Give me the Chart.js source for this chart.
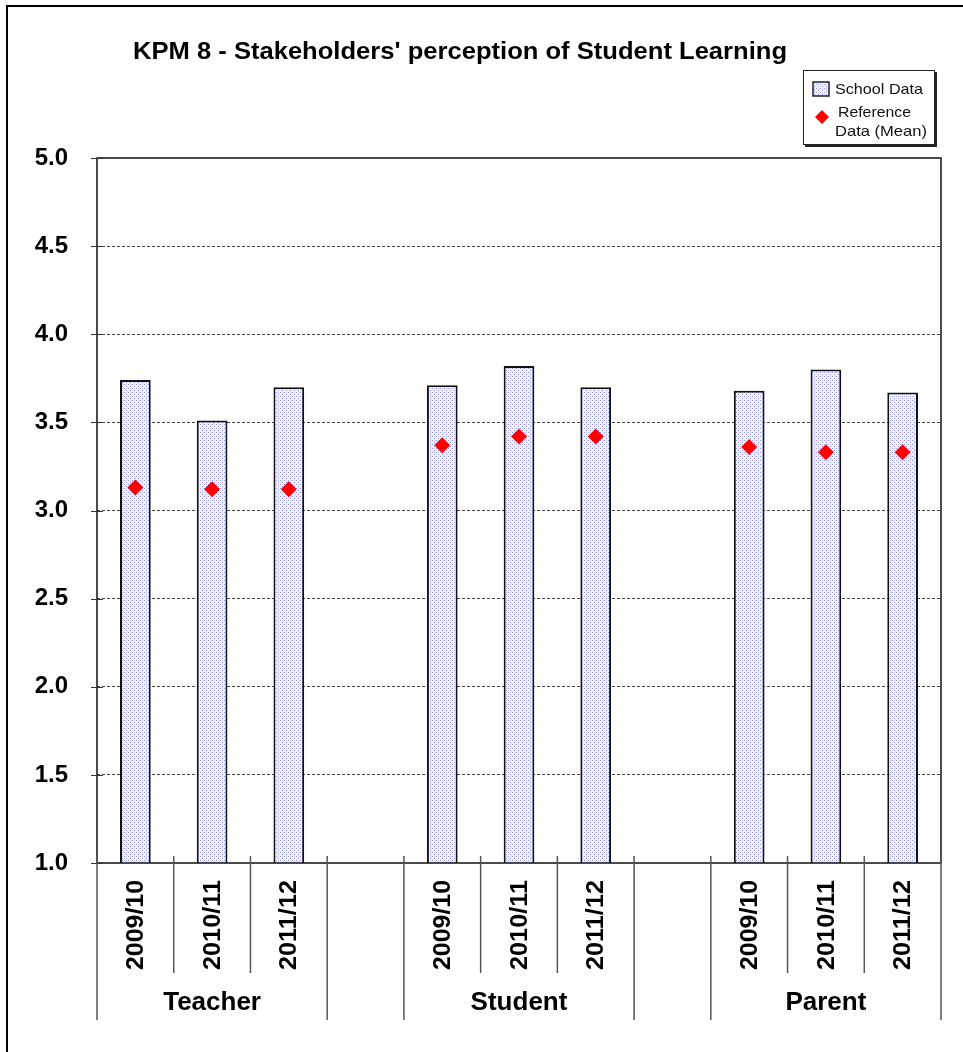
<!DOCTYPE html>
<html>
<head>
<meta charset="utf-8">
<script src="https://cdn.jsdelivr.net/npm/chart.js@4/dist/chart.umd.min.js"></script>
<style>
  body { margin: 0; background: #fff; }
  #wrap { width: 963px; height: 1052px; position: relative; }
</style>
</head>
<body>
<div id="wrap"><canvas id="kpmChart" width="963" height="1052"></canvas></div>
<script>
var title = "KPM 8 - Stakeholders' perception of Student Learning";
var groups = ['Teacher', 'Student', 'Parent'];
var years = ['2009/10', '2010/11', '2011/12'];
var schoolData = [
  [3.74, 3.51, 3.70],
  [3.71, 3.82, 3.70],
  [3.68, 3.80, 3.67]
];
var referenceMean = [
  [3.13, 3.12, 3.12],
  [3.37, 3.42, 3.42],
  [3.36, 3.33, 3.33]
];
var yTicks = [1.0, 1.5, 2.0, 2.5, 3.0, 3.5, 4.0, 4.5, 5.0];

var FONT = '"Liberation Sans", Arial, sans-serif';

// one slot per year, with an empty slot between groups
var labels = [];
var barData = [];
var meanData = [];
var groupOf = [];
for (var g = 0; g < groups.length; g++) {
  if (g > 0) {
    labels.push('');
    barData.push(null);
    meanData.push(null);
    groupOf.push(-1);
  }
  for (var i = 0; i < years.length; i++) {
    labels.push(years[i]);
    barData.push([1, schoolData[g][i]]);
    meanData.push(referenceMean[g][i]);
    groupOf.push(g);
  }
}

// dotted lavender fill for the bars
var pc = document.createElement('canvas');
pc.width = 4; pc.height = 4;
var p = pc.getContext('2d');
p.fillStyle = '#f1f1fd';
p.fillRect(0, 0, 4, 4);
p.fillStyle = '#9d9def';
p.fillRect(0, 0, 1, 1);
p.fillRect(2, 2, 1, 1);
p.fillStyle = '#cfcff7';
p.fillRect(2, 0, 1, 1);
var dotFill = p.createPattern(pc, 'repeat');

// text squeezed/stretched to a given width
function fitText(c, text, x, y, width) {
  var w = c.measureText(text).width;
  c.save();
  c.translate(x, y);
  c.scale(width / w, 1);
  c.fillText(text, 0, 0);
  c.restore();
}

var decorations = {
  id: 'decorations',
  beforeDraw: function (chart) {
    var c = chart.ctx;
    c.save();
    c.fillStyle = '#fff';
    c.fillRect(0, 0, chart.width, chart.height);
    c.restore();
  },
  afterDraw: function (chart) {
    var c = chart.ctx;
    var a = chart.chartArea;
    var xs = chart.scales.x;
    var ys = chart.scales.y;
    c.save();

    // outer frame
    c.strokeStyle = '#000';
    c.lineWidth = 2;
    c.beginPath();
    c.moveTo(7, chart.height);
    c.lineTo(7, 6);
    c.lineTo(chart.width, 6);
    c.stroke();

    // title
    c.fillStyle = '#000';
    c.font = 'bold 23px ' + FONT;
    c.textAlign = 'center';
    c.textBaseline = 'middle';
    fitText(c, title, 460, 53, 654);

    // plot frame
    c.strokeStyle = '#111';
    c.lineWidth = 1.5;
    c.strokeRect(a.left, a.top, a.right - a.left, a.bottom - a.top);

    // short ticks on the value axis
    c.lineWidth = 1;
    c.strokeStyle = '#333';
    yTicks.forEach(function (v) {
      var y = Math.round(ys.getPixelForValue(v)) + 0.5;
      c.beginPath();
      c.moveTo(a.left - 6, y);
      c.lineTo(a.left + 6, y);
      c.stroke();
    });

    // category separators under the axis
    var step = xs.getPixelForValue(1) - xs.getPixelForValue(0);
    c.strokeStyle = '#555';
    c.lineWidth = 1.5;
    for (var k = 0; k <= labels.length; k++) {
      var x = xs.getPixelForValue(k) - step / 2;
      var left = k > 0 ? groupOf[k - 1] : -1;
      var right = k < labels.length ? groupOf[k] : -1;
      if (left === -1 && right === -1) continue;
      var long = left !== right;
      c.beginPath();
      c.moveTo(x, a.bottom - 7);
      c.lineTo(x, long ? a.bottom + 157 : a.bottom + 110);
      c.stroke();
    }

    // year labels, rotated
    c.fillStyle = '#000';
    c.font = 'bold 24px ' + FONT;
    c.textAlign = 'center';
    c.textBaseline = 'middle';
    labels.forEach(function (lab, k) {
      if (!lab) return;
      c.save();
      c.translate(xs.getPixelForValue(k) + 1, a.bottom + 62);
      c.rotate(-Math.PI / 2);
      fitText(c, lab, 0, 0, 90);
      c.restore();
    });

    // group labels
    c.font = 'bold 26px ' + FONT;
    groups.forEach(function (name, g) {
      var mid = g * (years.length + 1) + 1;
      c.fillText(name, xs.getPixelForValue(mid), a.bottom + 140);
    });

    // legend box
    c.fillStyle = '#fff';
    c.fillRect(804, 70, 132, 75);
    c.strokeStyle = '#222';
    c.lineWidth = 1;
    c.strokeRect(803.5, 70.5, 131, 74);
    c.lineWidth = 2;
    c.beginPath();
    c.moveTo(936, 72);
    c.lineTo(936, 146);
    c.lineTo(805, 146);
    c.stroke();

    c.fillStyle = dotFill;
    c.fillRect(813, 82, 16, 14);
    c.strokeStyle = '#222';
    c.lineWidth = 1.5;
    c.strokeRect(813, 82, 16, 14);

    c.fillStyle = '#ff0000';
    c.beginPath();
    c.moveTo(822, 110);
    c.lineTo(829, 117);
    c.lineTo(822, 124);
    c.lineTo(815, 117);
    c.closePath();
    c.fill();

    c.fillStyle = '#111';
    c.font = '15px ' + FONT;
    c.textAlign = 'left';
    c.textBaseline = 'middle';
    fitText(c, 'School Data', 835, 90, 88);
    fitText(c, 'Reference', 838, 113, 73);
    fitText(c, 'Data (Mean)', 835, 132, 92);

    c.restore();
  }
};

var ctx = document.getElementById('kpmChart');

var myChart = new Chart(ctx, {
  data: {
    labels: labels,
    datasets: [{
      type: 'line',
      label: 'Reference Data (Mean)',
      data: meanData,
      showLine: false,
      pointStyle: 'rectRot',
      pointRadius: 8,
      pointHoverRadius: 8,
      pointBackgroundColor: '#ff0000',
      pointBorderColor: '#ff0000',
      pointBorderWidth: 0,
      order: 0
    }, {
      type: 'bar',
      label: 'School Data',
      data: barData,
      backgroundColor: dotFill,
      borderColor: '#111',
      borderWidth: 2,
      borderSkipped: 'bottom',
      categoryPercentage: 1,
      barPercentage: 0.4,
      order: 1
    }]
  },
  options: {
    responsive: false,
    animation: false,
    layout: {
      padding: { left: 0, top: 158, right: 22, bottom: 189 }
    },
    plugins: {
      legend: { display: false },
      tooltip: { enabled: false }
    },
    scales: {
      x: {
        offset: true,
        grid: { display: false },
        border: { display: false },
        ticks: { display: false },
        afterFit: function (scale) { scale.height = 0; }
      },
      y: {
        min: 1,
        max: 5,
        afterFit: function (scale) { scale.width = 97; },
        afterBuildTicks: function (scale) {
          scale.ticks = yTicks.map(function (v) { return { value: v }; });
        },
        grid: {
          drawTicks: false,
          color: function (c) {
            var v = c.tick && c.tick.value;
            return (v === 1 || v === 5) ? 'rgba(0,0,0,0)' : '#444';
          },
          lineWidth: 1
        },
        border: { display: false, dash: [3, 2] },
        ticks: {
          padding: 29,
          color: '#000',
          font: { family: FONT, size: 24, weight: 'bold' },
          callback: function (v) { return Number(v).toFixed(1); }
        }
      }
    }
  },
  plugins: [decorations]
});
</script>
</body>
</html>
